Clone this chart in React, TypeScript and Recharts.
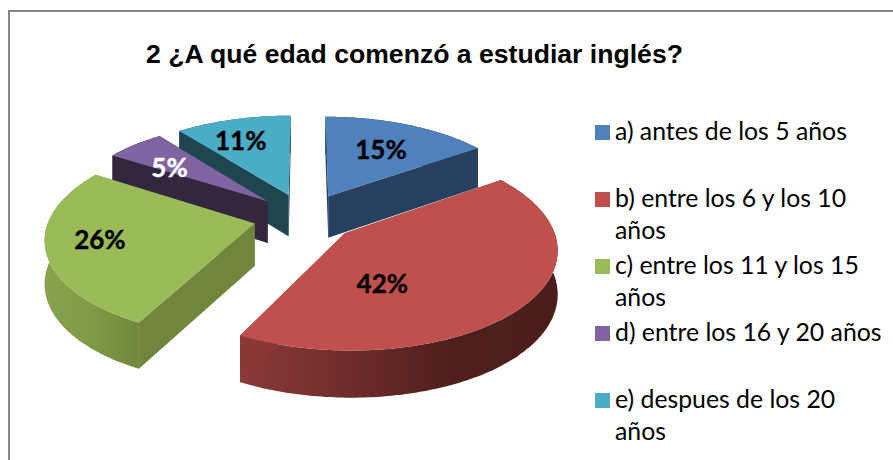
// pastel 3D (Recharts no tiene pie 3D, asi que se proyecta cada sector a mano)
import React from 'react'
import { PieChart, Pie, Legend } from 'recharts'

const categories = [
  'a) antes de los 5 años',
  'b) entre los 6 y los 10 años',
  'c) entre los 11 y los 15 años',
  'd) entre los 16 y 20 años',
  'e) despues de los 20 años'
]
const values = [15.3, 42.3, 26.4, 5.4, 10.6]
const title = '2 ¿A qué edad comenzó a estudiar inglés?'

const topColors = ['#4F81BD', '#C0504D', '#9BBB59', '#8064A2', '#4BACC6']
const wallColors = ['#27405F', '#8A3836', '#6F863C', '#33263F', '#1F4650']
const rimStops = [
  ['#27405F', '#27405F'],
  ['#8B3A38', '#6F2C2A', '#4F1F1D', '#4A1E1C'],
  ['#87A34D', '#7F9B46', '#6F873B'],
  ['#33263F', '#33263F'],
  ['#1F4650', '#1F4650']
]
const labelColors = ['#000', '#000', '#000', '#fff', '#000']
// distancia y giro de cada etiqueta dentro del sector
const labelReach = [0.89, 0.715, 0.995, 0.91, 0.967]
const labelTurn = [0, 20, 2, -3.7, -2.3]
// orden de pintado: de atras hacia adelante
const drawOrder = [4, 0, 3, 2, 1]

const tableData = categories.map((name, i) => ({ name, value: values[i] }))

const RAD = Math.PI / 180
const SQUASH = 0.468
const EXPLODE = 0.252
const PERSPECTIVE = 0.139

const project = (cx: number, cy: number, R: number, u: number, v: number, drop = false) => {
  const s = 1 / (1 - PERSPECTIVE * v)
  return {
    x: cx + R * u * s,
    y: cy + R * SQUASH * v * s + (drop ? 42.5 + 4 * v : 0)
  }
}

const discPoint = (mid: number, theta: number, r: number) => ({
  u: EXPLODE * Math.sin(mid * RAD) + r * Math.sin(theta * RAD),
  v: -EXPLODE * Math.cos(mid * RAD) - r * Math.cos(theta * RAD)
})

const toPath = (pts: { x: number; y: number }[]) =>
  'M' + pts.map(p => `${p.x.toFixed(1)},${p.y.toFixed(1)}`).join('L') + 'Z'

const makeShape = (layer: number) => (props: any) => {
  const index = categories.indexOf(props.name)
  if (index !== layer) return <g />
  const { cx, cy, outerRadius: R } = props
  const a0 = 90 - props.startAngle
  const a1 = 90 - props.endAngle
  const mid = (a0 + a1) / 2
  const at = (theta: number, r: number, drop = false) => {
    const p = discPoint(mid, theta, r)
    return project(cx, cy, R, p.u, p.v, drop)
  }
  const top: { x: number; y: number }[] = []
  const low: { x: number; y: number }[] = []
  for (let t = a0; t < a1; t += 1) {
    top.push(at(t, 1))
    low.push(at(t, 1, true))
  }
  top.push(at(a1, 1))
  low.push(at(a1, 1, true))
  const apex = at(0, 0)
  const apexLow = at(0, 0, true)
  const wallA = [apex, at(a0, 1), at(a0, 1, true), apexLow]
  const wallB = [apex, at(a1, 1), at(a1, 1, true), apexLow]
  const stops = rimStops[index]
  const gid = `rim-${index}`
  return (
    <g>
      <defs>
        <linearGradient id={gid} x1="0" y1="0" x2="1" y2="0">
          {stops.map((c, i) => (
            <stop key={i} offset={i / (stops.length - 1)} stopColor={c} />
          ))}
        </linearGradient>
      </defs>
      <path d={toPath([...top, ...low.slice().reverse()])} fill={`url(#${gid})`} />
      <path d={toPath(wallA)} fill={wallColors[index]} />
      <path d={toPath(wallB)} fill={wallColors[index]} />
      <path d={toPath([apex, ...top])} fill={topColors[index]} />
    </g>
  )
}

const renderLabel = (props: any) => {
  const { cx, cy, outerRadius: R, percent, midAngle } = props
  const index = categories.indexOf(props.name)
  const theta = 90 - midAngle + labelTurn[index]
  const reach = labelReach[index]
  const u = reach * Math.sin(theta * RAD)
  const v = -reach * Math.cos(theta * RAD)
  const p = project(cx, cy, R, u, v)
  return (
    <text
      x={p.x}
      y={p.y}
      textAnchor="middle"
      dominantBaseline="central"
      fill={labelColors[index]}
      stroke={labelColors[index]}
      strokeWidth={0.4}
      fontFamily="Lato"
      fontWeight={700}
      fontSize={26}
    >
      {Math.round(percent * 100)}%
    </text>
  )
}

const LegendBox = () => (
  <div style={{ fontFamily: 'Lato', fontSize: 24.8, lineHeight: '32px', color: '#000' }}>
    {categories.map((name, i) => (
      <div key={name} style={{ height: 67, display: 'flex' }}>
        <span
          style={{
            width: 15, height: 15, marginTop: 10, marginRight: 5, flexShrink: 0,
            background: topColors[i]
          }}
        />
        <span>{name}</span>
      </div>
    ))}
  </div>
)

const App = () => (
  <div style={{ position: 'absolute', left: 0, top: 0, width: 893, height: 460 }}>
    <PieChart width={893} height={460} margin={{ top: 0, right: 0, bottom: 0, left: 0 }}>
      <rect x={9} y={11} width={900} height={460} fill="#fff" stroke="#868686" strokeWidth={2} />
      <text x={414.5} y={63} textAnchor="middle" fontFamily="Liberation Sans" fontWeight={700} fontSize={26.6} fill="#000">
        {title}
      </text>
      {drawOrder.map(layer => (
        <Pie
          key={layer}
          data={tableData}
          dataKey="value"
          nameKey="name"
          cx={305}
          cy={217}
          outerRadius={205}
          startAngle={90}
          endAngle={-270}
          stroke="none"
          isAnimationActive={false}
          shape={makeShape(layer)}
          inactiveShape={makeShape(layer)}
          legendType="none"
        />
      ))}
      <Pie
        data={tableData}
        dataKey="value"
        nameKey="name"
        cx={305}
        cy={217}
        outerRadius={205}
        startAngle={90}
        endAngle={-270}
        stroke="none"
        isAnimationActive={false}
        shape={() => <g />}
        inactiveShape={() => <g />}
        label={renderLabel}
        labelLine={false}
        legendType="none"
      />
      <Legend
        content={<LegendBox />}
        wrapperStyle={{ position: 'absolute', left: 595, top: 115, width: 296, bottom: 'auto', right: 'auto' }}
      />
    </PieChart>
  </div>
)

export default App
